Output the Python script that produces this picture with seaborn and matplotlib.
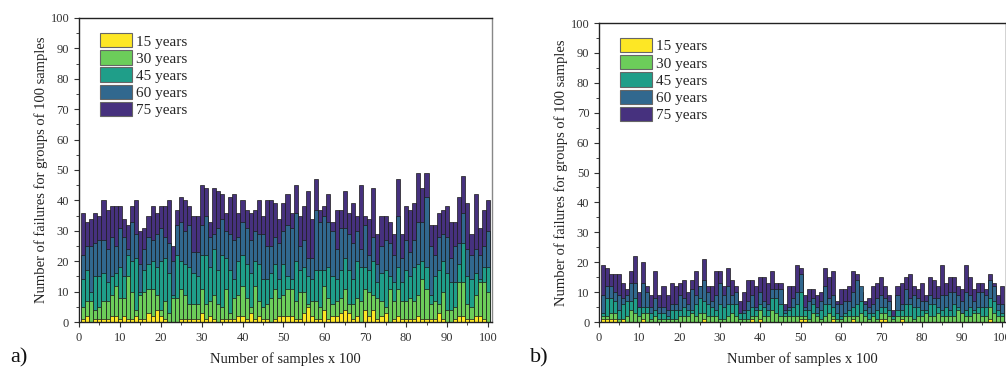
import numpy as np
import pandas as pd
import matplotlib
matplotlib.use("Agg")
import matplotlib.pyplot as plt
import seaborn as sns
from matplotlib.patches import Patch
from matplotlib.ticker import MultipleLocator

samples = np.arange(1, 101)
layers = ["15 years", "30 years", "45 years", "60 years", "75 years"]

# panel a) cumulative tops of each age group
a_75 = [36, 33, 34, 36, 35, 40, 37, 38, 38, 38, 34, 32, 38, 40, 30, 31, 35, 38, 36, 38,
        38, 40, 25, 37, 41, 40, 38, 35, 35, 45, 44, 33, 44, 43, 42, 36, 41, 42, 36, 40,
        37, 36, 37, 40, 35, 40, 40, 39, 34, 39, 42, 36, 45, 35, 38, 43, 34, 47, 37, 38,
        42, 33, 37, 37, 43, 36, 39, 35, 45, 35, 34, 44, 29, 35, 35, 33, 29, 47, 29, 38,
        37, 39, 49, 44, 49, 32, 32, 36, 37, 38, 33, 33, 41, 48, 39, 29, 42, 31, 37, 40]
a_60 = [22, 25, 25, 26, 27, 27, 24, 28, 25, 31, 28, 24, 33, 29, 19, 24, 28, 27, 29, 31,
        28, 26, 20, 32, 33, 30, 32, 23, 23, 32, 35, 28, 29, 31, 34, 30, 29, 27, 28, 33,
        31, 27, 30, 29, 29, 25, 25, 28, 26, 30, 32, 31, 36, 25, 27, 21, 21, 37, 33, 35,
        33, 30, 24, 31, 31, 29, 26, 30, 24, 32, 22, 28, 19, 25, 27, 26, 22, 35, 21, 27,
        23, 27, 33, 33, 41, 25, 22, 28, 29, 28, 21, 25, 26, 36, 24, 22, 24, 22, 25, 30]
a_45 = [14, 17, 10, 15, 15, 16, 13, 15, 16, 18, 15, 22, 20, 21, 10, 17, 19, 20, 18, 20,
        21, 16, 9, 22, 20, 19, 18, 16, 15, 22, 22, 18, 24, 17, 22, 21, 17, 14, 20, 22,
        19, 16, 20, 19, 14, 14, 16, 19, 14, 19, 15, 14, 20, 17, 18, 15, 14, 17, 17, 17,
        18, 15, 14, 17, 21, 17, 14, 20, 18, 18, 17, 20, 13, 16, 17, 15, 13, 18, 13, 17,
        15, 18, 19, 20, 18, 9, 15, 17, 20, 16, 13, 13, 19, 26, 15, 14, 16, 14, 18, 18]
a_30 = [5, 7, 7, 4, 5, 7, 7, 9, 12, 8, 8, 15, 10, 4, 9, 10, 11, 11, 9, 4,
        7, 3, 8, 8, 11, 9, 6, 6, 6, 11, 6, 7, 9, 6, 5, 11, 3, 8, 9, 12,
        8, 5, 12, 7, 5, 6, 8, 11, 8, 9, 11, 11, 7, 10, 10, 6, 7, 7, 5, 12,
        8, 6, 7, 8, 11, 6, 6, 8, 7, 11, 10, 9, 8, 7, 5, 11, 7, 11, 7, 7,
        8, 7, 9, 14, 11, 6, 7, 6, 10, 4, 4, 5, 13, 13, 6, 5, 9, 13, 13, 10]
a_15 = [1, 2, 0, 1, 1, 1, 1, 2, 2, 1, 2, 1, 1, 2, 1, 1, 3, 2, 4, 2,
        1, 0, 0, 0, 1, 1, 1, 1, 1, 3, 1, 2, 1, 0, 1, 1, 1, 1, 2, 2,
        1, 3, 1, 2, 1, 1, 0, 1, 2, 2, 2, 2, 1, 1, 3, 5, 2, 1, 1, 4,
        1, 2, 2, 3, 4, 3, 1, 2, 0, 4, 2, 4, 1, 2, 3, 0, 1, 2, 1, 1,
        1, 1, 2, 1, 1, 1, 1, 3, 1, 0, 0, 1, 2, 2, 1, 1, 2, 2, 1, 0]

# panel b)
b_75 = [19, 18, 16, 16, 16, 13, 11, 17, 22, 10, 20, 12, 9, 17, 9, 12, 9, 13, 12, 13,
        14, 10, 14, 17, 12, 21, 12, 12, 17, 17, 12, 18, 14, 12, 7, 10, 14, 14, 12, 15,
        15, 13, 17, 13, 13, 6, 12, 12, 19, 18, 9, 11, 11, 9, 10, 18, 15, 17, 7, 11,
        11, 12, 17, 16, 10, 7, 8, 12, 13, 15, 12, 9, 4, 12, 13, 15, 16, 12, 11, 13,
        9, 15, 14, 12, 19, 13, 15, 15, 12, 11, 19, 15, 11, 13, 13, 11, 16, 13, 9, 12]
b_60 = [9, 12, 12, 10, 9, 8, 9, 13, 13, 5, 13, 10, 5, 8, 5, 5, 4, 6, 6, 9,
        8, 6, 11, 9, 12, 14, 10, 7, 9, 13, 9, 12, 9, 10, 3, 4, 7, 9, 5, 10,
        7, 6, 11, 11, 11, 4, 5, 8, 10, 16, 5, 7, 8, 5, 7, 12, 8, 9, 6, 6,
        7, 7, 10, 14, 12, 6, 5, 6, 8, 9, 8, 7, 2, 9, 6, 11, 8, 9, 8, 7,
        7, 9, 8, 8, 9, 9, 10, 10, 9, 7, 10, 9, 7, 10, 10, 9, 14, 12, 6, 6]
b_45 = [3, 8, 8, 7, 4, 6, 7, 7, 8, 5, 5, 5, 3, 4, 3, 3, 2, 4, 4, 4,
        5, 4, 4, 6, 8, 7, 6, 5, 4, 6, 5, 6, 6, 6, 3, 3, 4, 5, 4, 6,
        5, 4, 8, 8, 6, 3, 4, 5, 6, 10, 4, 4, 6, 3, 4, 6, 6, 5, 3, 2,
        3, 4, 5, 6, 7, 4, 3, 3, 4, 5, 5, 4, 2, 4, 4, 6, 6, 5, 5, 4,
        4, 6, 6, 5, 4, 5, 4, 6, 5, 3, 4, 5, 4, 5, 5, 5, 8, 7, 4, 3]
b_30 = [2, 2, 3, 3, 1, 1, 2, 4, 3, 2, 3, 3, 1, 2, 1, 1, 1, 1, 1, 2,
        2, 2, 3, 2, 3, 3, 2, 2, 2, 1, 1, 2, 3, 2, 1, 1, 1, 2, 2, 4,
        2, 2, 4, 3, 2, 2, 2, 2, 2, 2, 2, 1, 3, 2, 1, 2, 3, 2, 1, 1,
        2, 2, 2, 2, 3, 2, 1, 2, 1, 3, 3, 2, 1, 2, 2, 2, 2, 1, 2, 2,
        3, 2, 2, 3, 2, 2, 2, 2, 4, 3, 2, 2, 3, 3, 2, 2, 5, 3, 2, 2]
b_15 = [1, 1, 1, 1, 0, 1, 0, 0, 0, 0, 1, 0, 0, 0, 0, 0, 0, 0, 0, 0,
        0, 0, 0, 0, 0, 1, 0, 0, 0, 0, 0, 0, 0, 0, 0, 0, 0, 1, 0, 1,
        0, 0, 0, 0, 0, 0, 0, 0, 0, 1, 1, 0, 0, 0, 0, 0, 0, 1, 0, 0,
        0, 0, 1, 0, 0, 0, 0, 0, 0, 1, 1, 0, 0, 0, 1, 0, 0, 0, 0, 0,
        0, 0, 0, 0, 0, 0, 0, 0, 0, 0, 0, 0, 0, 0, 0, 0, 1, 0, 0, 0]

colors = {
    "15 years": "#FDE725",
    "30 years": "#6CCD5A",
    "45 years": "#1F9E89",
    "60 years": "#31688E",
    "75 years": "#46317E",
}

sns.set_style("ticks")
plt.rcParams["font.family"] = ["Liberation Serif", "DejaVu Serif"]
plt.rcParams["xtick.major.size"] = 3.5
plt.rcParams["ytick.major.size"] = 3.5
plt.rcParams["xtick.minor.size"] = 2
plt.rcParams["ytick.minor.size"] = 2

fig = plt.figure(figsize=(10.06, 3.74), dpi=100)
ax_a = fig.add_axes([0.0785, 0.139, 0.4105, 0.813])
ax_b = fig.add_axes([0.5954, 0.139, 0.405, 0.7995])


def draw_panel(ax, cums):
    # tallest first, then overlay the lower cumulative levels
    for name in layers[::-1]:
        sns.barplot(x=samples, y=cums[name], native_scale=True, width=1,
                    color=colors[name], saturation=1, edgecolor="#1a1a1a",
                    linewidth=0.5, errorbar=None, ax=ax)
    ax.set_xlim(0, 101)
    ax.set_ylim(0, 100)
    ax.xaxis.set_major_locator(MultipleLocator(10))
    ax.xaxis.set_minor_locator(MultipleLocator(5))
    ax.yaxis.set_major_locator(MultipleLocator(10))
    ax.yaxis.set_minor_locator(MultipleLocator(5))
    ax.tick_params(labelsize=9, colors="#333333")
    ax.set_xlabel("Number of samples x 100", fontsize=10.5, color="#222222", labelpad=6)
    ax.set_ylabel("Number of failures for groups of 100 samples", fontsize=10.5,
                  color="#222222", labelpad=2)
    for s in ax.spines.values():
        s.set_linewidth(1.0)
        s.set_color("#222222")
    handles = [Patch(facecolor=colors[n], edgecolor="#666666", linewidth=0.8, label=n)
               for n in layers]
    ax.legend(handles=handles, loc="upper left", bbox_to_anchor=(0.025, 0.985),
              frameon=False, fontsize=11, handlelength=2.1, handleheight=1.05,
              handletextpad=0.25, labelspacing=0.12, borderaxespad=0.3)


draw_panel(ax_a, {"15 years": a_15, "30 years": a_30, "45 years": a_45,
                  "60 years": a_60, "75 years": a_75})
draw_panel(ax_b, {"15 years": b_15, "30 years": b_30, "45 years": b_45,
                  "60 years": b_60, "75 years": b_75})
ax_a.spines["right"].set_color("#888888")

fig.text(0.010, 0.030, "a)", fontsize=16, color="#111111")
fig.text(0.527, 0.030, "b)", fontsize=16, color="#111111")

fig.savefig("out.png", dpi=100)
